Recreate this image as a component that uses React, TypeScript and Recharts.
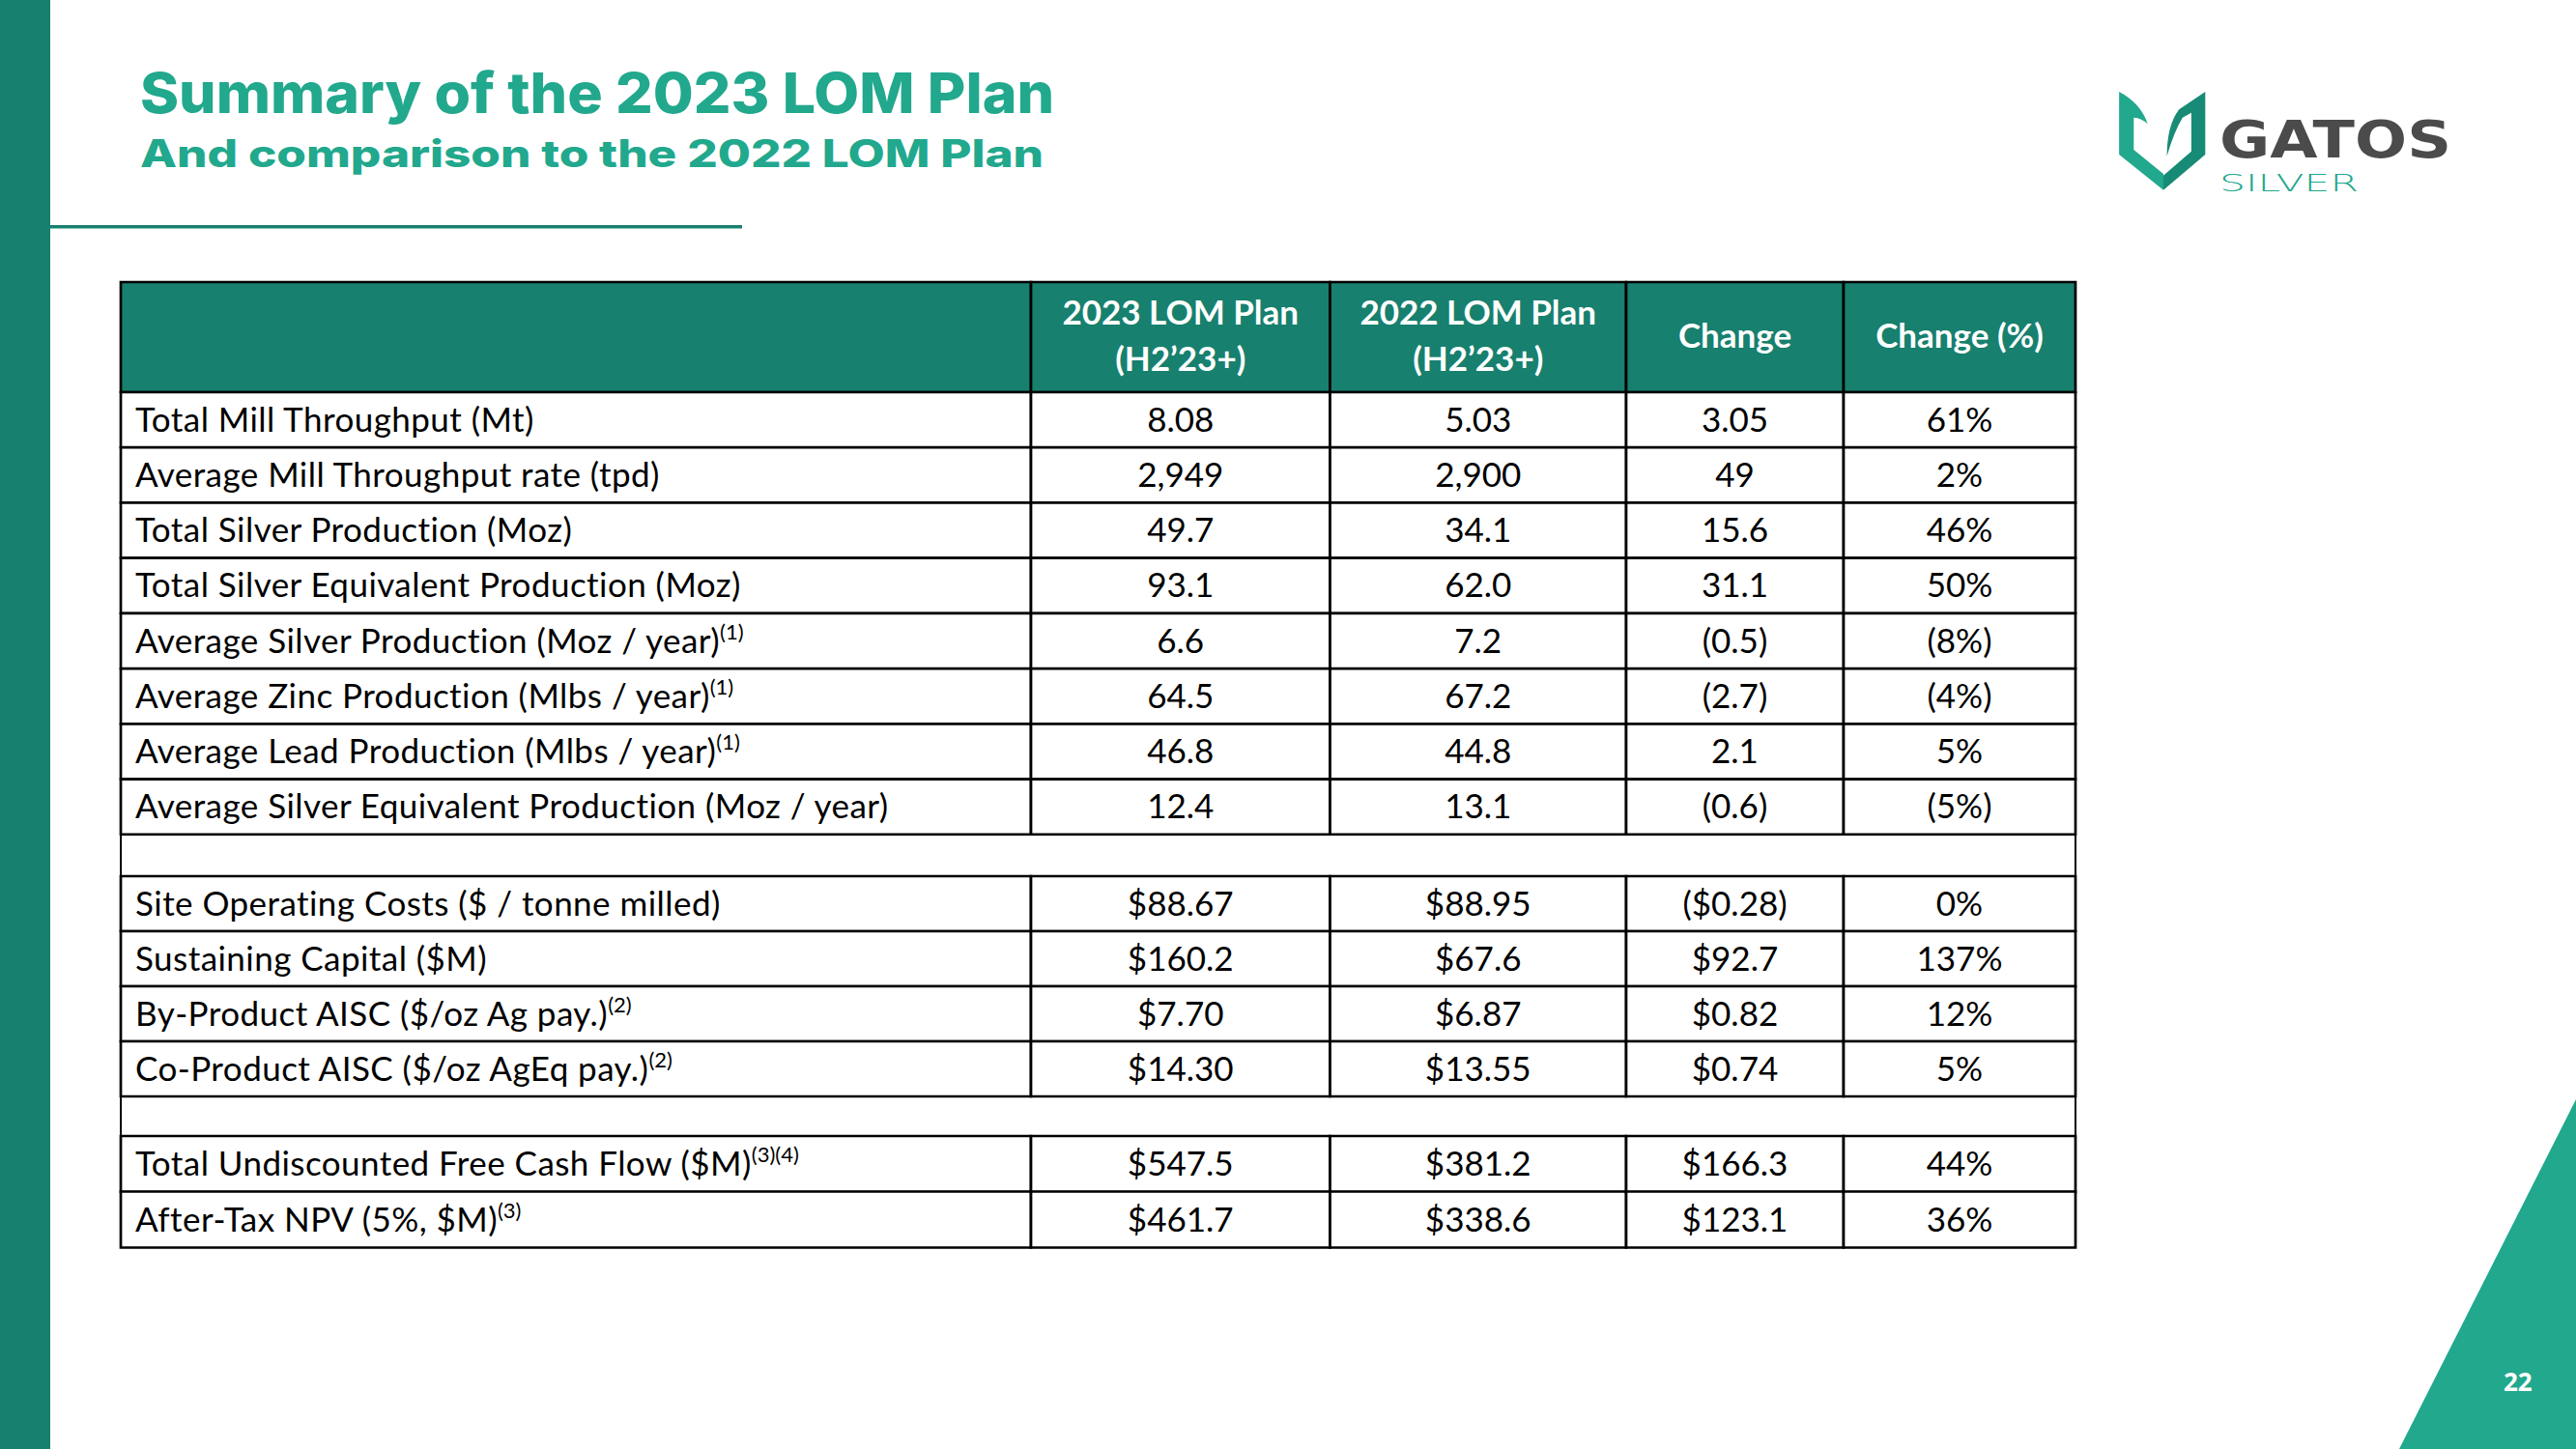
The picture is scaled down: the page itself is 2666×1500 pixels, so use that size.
import React from 'react';
import { BarChart, Bar, XAxis, YAxis, LabelList } from 'recharts';

// ---------- data ----------
const headerLines: string[][] = [
  [''],
  ['2023 LOM Plan', '(H2’23+)'],
  ['2022 LOM Plan', '(H2’23+)'],
  ['Change'],
  ['Change (%)'],
];

const rowLabels = [
  'Total Mill Throughput (Mt)',
  'Average Mill Throughput rate (tpd)',
  'Total Silver Production (Moz)',
  'Total Silver Equivalent Production (Moz)',
  'Average Silver Production (Moz / year)',
  'Average Zinc Production (Mlbs / year)',
  'Average Lead Production (Mlbs / year)',
  'Average Silver Equivalent Production (Moz / year)',
  'Site Operating Costs ($ / tonne milled)',
  'Sustaining Capital ($M)',
  'By-Product AISC ($/oz Ag pay.)',
  'Co-Product AISC ($/oz AgEq pay.)',
  'Total Undiscounted Free Cash Flow ($M)',
  'After-Tax NPV (5%, $M)',
];
const rowNotes = ['', '', '', '', '(1)', '(1)', '(1)', '', '', '', '(2)', '(2)', '(3)(4)', '(3)'];
const plan2023 = ['8.08', '2,949', '49.7', '93.1', '6.6', '64.5', '46.8', '12.4', '$88.67', '$160.2', '$7.70', '$14.30', '$547.5', '$461.7'];
const plan2022 = ['5.03', '2,900', '34.1', '62.0', '7.2', '67.2', '44.8', '13.1', '$88.95', '$67.6', '$6.87', '$13.55', '$381.2', '$338.6'];
const changeAbs = ['3.05', '49', '15.6', '31.1', '(0.5)', '(2.7)', '2.1', '(0.6)', '($0.28)', '$92.7', '$0.82', '$0.74', '$166.3', '$123.1'];
const changePct = ['61%', '2%', '46%', '50%', '(8%)', '(4%)', '5%', '(5%)', '0%', '137%', '12%', '5%', '44%', '36%'];
const sectionSizes = [8, 4, 2];

const title = 'Summary of the 2023 LOM Plan';
const subtitle = 'And comparison to the 2022 LOM Plan';
const pageNumber = '22';

// ---------- layout / style ----------
const W = 2666;
const H = 1500;
const TABLE_LEFT = 125;
const TABLE_RIGHT = 2148;
const COL_WIDTHS = [942, 309.5, 306.5, 225, 240];
const TABLE_W = COL_WIDTHS.reduce((a, b) => a + b, 0);
const COL_KEYS = ['label', 'p23', 'p22', 'chg', 'pct'];
const HEADER_TOP = 292;
const HEADER_H = 114;
const SECTION_TOPS = [406, 907, 1176];
const SECTION_HEIGHTS = [458, 228, 115];
const PAD = 3;

const TEAL_DARK = '#17806e';
const TEAL = '#21a88d';
const CELL_FONT = "Lato, 'Open Sans', sans-serif";
const FS = 35;
const LS = 0.45;

type Row = { label: string; note: string; p23: string; p22: string; chg: string; pct: string };

const allRows: Row[] = rowLabels.map((label, i) => ({
  label,
  note: rowNotes[i],
  p23: plan2023[i],
  p22: plan2022[i],
  chg: changeAbs[i],
  pct: changePct[i],
}));

const sections: Row[][] = [];
{
  let start = 0;
  sectionSizes.forEach((n) => {
    sections.push(allRows.slice(start, start + n));
    start += n;
  });
}

function boxOf(p: any) {
  const vb = p.viewBox || {};
  return {
    x: Number(p.x ?? vb.x ?? 0),
    y: Number(p.y ?? vb.y ?? 0),
    w: Number(p.width ?? vb.width ?? 0),
    h: Number(p.height ?? vb.height ?? 0),
  };
}

const bodyCell = (col: number, rows: Row[]) => (p: any) => {
  const { x, y, w, h } = boxOf(p);
  const row = rows[p.index ?? 0];
  if (!row) return null;
  const cy = y + h / 2 + 12;
  if (col === 0) {
    return (
      <text x={x + 15} y={cy} fontSize={FS} letterSpacing={LS} fontFamily={CELL_FONT} fill="#000">
        {row.label}
        {row.note ? (
          <tspan dy={-14} fontSize={22} letterSpacing={0}>
            {row.note}
          </tspan>
        ) : null}
      </text>
    );
  }
  const v = (row as any)[COL_KEYS[col]];
  return (
    <text x={x + w / 2} y={cy} fontSize={FS} fontFamily={CELL_FONT} fill="#000" textAnchor="middle">
      {v}
    </text>
  );
};

const headerCell = (col: number) => (p: any) => {
  const { x, y, w, h } = boxOf(p);
  const lines = headerLines[col];
  const n = lines.length;
  const c = y + h / 2;
  return (
    <g>
      {lines.map((ln, i) => (
        <text
          key={i}
          x={x + w / 2}
          y={c + 11 + (i - (n - 1) / 2) * 48}
          fontSize={FS}
          fontWeight={700}
          fontFamily={CELL_FONT}
          fill="#fff"
          textAnchor="middle"
        >
          {ln}
        </text>
      ))}
    </g>
  );
};

function TableChart({
  data,
  top,
  height,
  header,
}: {
  data: any[];
  top: number;
  height: number;
  header?: boolean;
}) {
  return (
    <div style={{ position: 'absolute', left: 0, top: top - PAD, width: W, height: height + 2 * PAD }}>
      <BarChart
        width={W}
        height={height + 2 * PAD}
        data={data}
        layout="vertical"
        margin={{ top: PAD, bottom: PAD, left: TABLE_LEFT, right: W - TABLE_RIGHT }}
        barCategoryGap={0}
        barGap={0}
      >
        <XAxis type="number" hide domain={[0, TABLE_W]} />
        <YAxis type="category" dataKey="label" hide />
        {COL_WIDTHS.map((cw, i) => (
          <Bar
            key={i}
            dataKey={() => cw}
            stackId="row"
            fill={header ? TEAL_DARK : '#ffffff'}
            stroke="#000"
            strokeWidth={2.7}
            isAnimationActive={false}
          >
            <LabelList dataKey="label" content={header ? headerCell(i) : bodyCell(i, data)} />
          </Bar>
        ))}
      </BarChart>
    </div>
  );
}

function Decor() {
  return (
    <svg width={W} height={H} style={{ position: 'absolute', left: 0, top: 0 }}>
      <rect x={0} y={0} width={W} height={H} fill="#fff" />
      <rect x={0} y={0} width={52} height={H} fill={TEAL_DARK} />
      <rect x={52} y={233} width={716} height={3.5} fill={TEAL_DARK} />
      <text
        x={145}
        y={117}
        fontSize={58}
        fontWeight={800}
        fontFamily="Inter, 'Open Sans', sans-serif"
        fill={TEAL}
        textLength={946}
        lengthAdjust="spacingAndGlyphs"
      >
        {title}
      </text>
      <text
        x={145}
        y={173}
        fontSize={39}
        fontWeight={800}
        fontFamily="Inter, 'Open Sans', sans-serif"
        fill={TEAL}
        textLength={935}
        lengthAdjust="spacingAndGlyphs"
      >
        {subtitle}
      </text>
      {/* logo */}
      <g transform="translate(2100,50) scale(0.361,0.3333)">
        <path d="M258,135 Q320,170 340,235 Q320,215 300,215 L300,315 L385,390 L385,440 L258,330 Z" fill="#22a88c" />
        <path d="M505,135 L505,330 L385,440 L385,395 L465,320 L465,200 L440,215 Q415,260 395,335 Q395,240 430,190 Z" fill="#178b76" />
      </g>
      <text
        x={2297}
        y={163}
        fontSize={54}
        fontWeight={900}
        fontFamily="'DejaVu Sans', Inter, sans-serif"
        fill="#4b4b4b"
        textLength={240}
        lengthAdjust="spacingAndGlyphs"
      >
        GATOS
      </text>
      <text
        x={2297}
        y={198}
        fontSize={24}
        fontWeight={300}
        fontFamily="'DejaVu Sans', Inter, sans-serif"
        fill={TEAL}
        textLength={144}
        lengthAdjust="spacingAndGlyphs"
      >
        SILVER
      </text>
      {/* corner triangle */}
      <polygon points="2666,1138 2666,1500 2483,1500" fill={TEAL} />
      <text x={2591} y={1440} fontSize={26} fontWeight={700} fontFamily="'Open Sans', sans-serif" fill="#fff">
        {pageNumber}
      </text>
    </svg>
  );
}

function BlankRow({ top, bottom }: { top: number; bottom: number }) {
  return (
    <div
      style={{
        position: 'absolute',
        left: TABLE_LEFT - 1.35,
        top,
        width: TABLE_W + 2.7,
        height: bottom - top,
        borderLeft: '2.7px solid #000',
        borderRight: '2.7px solid #000',
        boxSizing: 'border-box',
      }}
    />
  );
}

export default function App() {
  const headerData = [{ label: 'header' }];
  return (
    <div style={{ position: 'absolute', left: 0, top: 0, width: W, height: H, overflow: 'hidden', background: '#fff' }}>
      <Decor />
      <BlankRow top={SECTION_TOPS[0] + SECTION_HEIGHTS[0]} bottom={SECTION_TOPS[1]} />
      <BlankRow top={SECTION_TOPS[1] + SECTION_HEIGHTS[1]} bottom={SECTION_TOPS[2]} />
      <TableChart data={headerData} top={HEADER_TOP} height={HEADER_H} header />
      {sections.map((rows, i) => (
        <TableChart key={i} data={rows} top={SECTION_TOPS[i]} height={SECTION_HEIGHTS[i]} />
      ))}
    </div>
  );
}
